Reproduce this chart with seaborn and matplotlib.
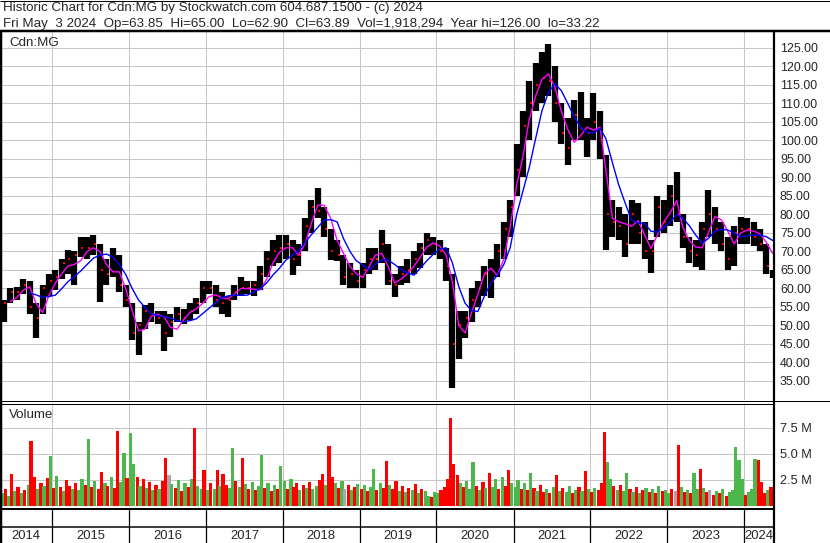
import numpy as np
import pandas as pd
import matplotlib
matplotlib.use('Agg')
import matplotlib.pyplot as plt
from matplotlib.lines import Line2D
import seaborn as sns

# ---- data --------------------------------------------------------------
# monthly bars, May 2014 .. May 2024
month_hi = [57, 60, 60.5, 62.5, 62, 56, 61, 64,
            65, 68, 70.5, 70, 74, 74, 74.5, 72, 68, 71, 69, 61,
            56, 51, 55.5, 56, 54, 54, 53, 55, 54.5, 56, 57.5, 62,
            62, 61, 59, 58, 61, 63, 62, 62, 66, 70, 73, 74.5,
            74.5, 73, 72, 79, 84, 87.2, 82, 76, 73, 69, 67, 65,
            67, 71, 71, 75.8, 72, 64, 66, 68, 70, 72.3, 75, 74,
            73, 71, 64, 54, 54, 60, 62, 66, 68, 72, 78, 84,
            99, 108, 116, 121, 124, 126, 120, 110, 106, 111, 113, 106,
            112.8, 108, 96, 84, 82, 80, 84, 83, 78, 73, 85, 84,
            88, 91.5, 80, 74, 73, 78, 86.6, 82, 78, 74, 77, 79.3,
            79, 78, 76, 72, 65]
month_lo = [51, 56, 57, 58.5, 53, 46.5, 53, 58,
            59.5, 62.5, 64, 61, 68.5, 68, 69, 56.4, 61, 63, 59, 55,
            46, 42, 49, 51, 50.5, 43, 47, 51, 50.5, 51.5, 53, 56,
            58.5, 55, 53, 52.3, 57, 58, 58.5, 58, 59.5, 63, 66, 67,
            68, 63.6, 66, 70, 75, 79, 74, 67.7, 67.5, 61, 60, 60,
            60, 64, 65, 67, 61, 57.7, 61, 61.5, 64, 65.5, 69, 69,
            68, 62, 33.2, 41, 46.5, 51, 55, 58, 57.4, 63, 68, 74,
            85, 90, 100, 108, 110, 112, 105, 99, 93.4, 100, 100, 95.5,
            100, 95, 70.5, 74, 73, 68.5, 72, 72, 68, 64.2, 74, 75,
            77, 78, 71, 67, 65.8, 65, 74, 72, 70, 65, 66, 72,
            72, 71.5, 70, 64, 62.9]
month_close = [56, 59, 59, 61, 55, 52, 60, 62,
               63, 67, 68, 69, 71, 71, 72, 65, 64, 68, 61, 57,
               48, 50, 54, 53, 52, 48, 51, 53, 52, 54, 56, 60,
               60, 57, 56, 57, 59, 60, 60, 61, 64, 68, 70, 71,
               72, 68, 69, 77, 82, 81, 76, 70, 69, 63, 64, 62,
               65, 68, 68, 72, 62, 61, 64, 65, 68, 71, 73, 72,
               70, 66, 45, 50, 52, 57, 60, 64, 62, 70, 76, 82,
               92, 104, 110, 115, 117, 116, 110, 102, 98, 107, 103, 102,
               105, 100, 80, 78, 77, 72, 80, 75, 70, 70, 82, 78,
               85, 80, 74, 70, 69, 76, 80, 76, 72, 68, 75, 76,
               76, 74, 72, 66, 63.89]

# magenta (short) and blue (long) averages, same months
ma_short = [None, 56.5, 57.5, 59.5, 60.5, 56, 53.5, 58,
            61.5, 64, 66, 66.5, 67.5, 70, 71, 70, 66.5, 64.5, 64.5, 60,
            54, 48.5, 49, 52.5, 53, 52.3, 49.5, 49, 51.5, 53.5, 54.5, 56,
            57.8, 58.3, 57.5, 57.2, 58.5, 60, 60, 59.8, 59.6, 62.5, 67, 69.8,
            71, 71, 69, 72, 77.5, 82.5, 82.5, 79, 73, 69.5, 66, 64,
            63, 66, 69, 69.5, 66, 61.5, 62.5, 64, 66, 68.5, 71.2, 72.3,
            71.5, 69, 62, 50, 48, 53.5, 58.5, 64, 65.5, 63.5, 68, 76.6,
            88, 96, 105.5, 112, 116.5, 118, 114.5, 108, 103, 99.5, 101.3, 103.6,
            102.8, 103.6, 92, 79, 78, 77.5, 76.8, 78.3, 74.5, 70.8, 74.5, 78,
            80.5, 83.8, 76.6, 73, 71.2, 71, 75, 79.5, 78.5, 75.5, 72, 75,
            75.8, 75.5, 74.8, 72.5, 69.5]
ma_long = [None, None, None, None, 58.8, 58.3, 57.6, 57.8,
           58.2, 60, 61.8, 63.2, 64.7, 66.5, 68.2, 69, 69.3, 68.5, 66.5, 63.8,
           60, 56.8, 55, 53.2, 52.6, 52.4, 52, 51.3, 51, 51.3, 51.8, 53.2,
           54.7, 56.2, 57.5, 58, 58.2, 58.2, 58.2, 59, 60, 61.5, 63.7, 65.5,
           67.7, 69, 70.2, 72.4, 74.5, 76.5, 78.5, 78.6, 78, 73.5, 70, 67.5,
           66.3, 65, 66.5, 67.7, 67.7, 66.5, 65.2, 64.2, 63.6, 65.5, 67.5, 69.2,
           70.6, 71, 67, 60.5, 56, 54, 53.8, 58, 61.5, 63.5, 66.5, 71,
           80, 86.6, 92.5, 100.5, 108, 113, 115.3, 113.5, 110, 106.5, 103.5, 102.2,
           102, 103.3, 100.5, 94, 88, 83, 78.5, 77.7, 77.5, 75.5, 75.2, 76.4,
           78, 80, 79, 77, 74.5, 72.3, 73.5, 75.5, 76, 75.8, 75, 74,
           74.2, 74.5, 74.4, 74, 73]

# volume in millions, twice a month; colour code r=down, g=up, k=unchanged
volume = [1.2, 1.6, 1.0, 3.1, 1.4, 1.8, 1.2, 1.5, 2.0, 6.2, 2.8, 1.6, 2.2, 1.9, 2.7, 4.8,
          1.7, 2.9, 1.8, 1.4, 2.5, 1.9, 1.6, 2.2, 1.5, 2.6, 2.0, 6.4, 1.8, 2.4, 1.6, 3.3, 2.2, 1.9, 2.8, 1.7, 7.2, 2.3, 5.1, 2.7,
          7.0, 4.0, 2.8, 1.9, 2.6, 1.7, 2.3, 1.5, 2.0, 1.6, 2.4, 4.6, 3.0, 2.1, 1.7, 2.5, 1.4, 2.2, 1.8, 2.6, 7.5, 1.9, 1.6, 3.5,
          1.5, 2.2, 1.6, 3.5, 1.9, 3.1, 2.0, 1.7, 5.6, 2.4, 1.8, 4.6, 2.1, 1.6, 2.3, 1.5, 1.9, 4.9, 1.7, 2.2, 1.4, 2.0, 1.6, 3.8,
          2.4, 1.6, 2.6, 1.8, 2.2, 1.5, 2.0, 1.7, 2.3, 1.6, 1.9, 2.5, 3.1, 2.0, 5.8, 2.8, 2.2, 1.7, 2.4, 1.6, 2.0, 1.5, 1.8, 2.1,
          1.6, 2.0, 1.4, 1.8, 3.6, 1.5, 2.2, 1.7, 4.3, 2.0, 1.6, 2.4, 1.4, 1.9, 1.3, 1.7, 1.5, 2.1, 1.2, 1.6, 1.4, 1.0, 0.9, 1.3,
          1.2, 1.5, 1.8, 2.6, 8.5, 4.0, 3.0, 2.2, 1.8, 2.4, 1.6, 4.2, 1.9, 1.5, 2.3, 1.7, 3.2, 1.8, 2.6, 1.6, 2.8, 1.9, 3.5, 2.2,
          1.8, 2.5, 1.6, 2.2, 1.5, 3.2, 1.7, 1.4, 2.0, 1.3, 1.6, 1.2, 1.8, 3.0, 1.4, 1.7, 1.3, 1.9, 1.2, 1.5, 1.8, 1.4, 3.4, 1.6,
          1.3, 1.7, 1.5, 2.2, 7.1, 4.2, 2.6, 1.9, 1.5, 2.0, 1.4, 3.2, 1.6, 1.3, 1.8, 1.2, 1.5, 1.7, 1.3, 1.6, 1.2, 1.9, 1.4, 1.5,
          1.2, 1.6, 1.4, 5.9, 1.8, 1.3, 1.5, 1.2, 3.2, 1.6, 3.6, 1.7, 1.3, 1.5, 1.1, 1.4, 1.2, 1.6, 1.0, 1.3, 1.5, 5.7, 4.4, 2.6,
          1.1, 1.3, 1.6, 4.5, 4.4, 2.3, 1.2, 1.5, 1.8]
volume_dir = ('grgrgrgrgrrgrgrg'
              'rgrgrrgrggrgrgrrgrgrrggr'
              'ggrgrgrgrgrrkgrgrgrgrggr'
              'grgrgrrggrgrgrgrggrgrgrg'
              'grgrrgrgrggrrgrrgrgkrgrg'
              'rgrggrgrrgrrgrgrgrgrggrg'
              'grrrrrrgrgggrgrgrggrgrrg'
              'ggrgrgrgrrgrgrgrggrgrgrg'
              'rgrrrggrgrggrgrgrgrgrgrg'
              'grkrgrgrggrgrkrgrgrggggg'
              'rgggrrrgr')

years = ['2014', '2015', '2016', '2017', '2018', '2019', '2020', '2021', '2022', '2023', '2024']
price_ticks = [35, 40, 45, 50, 55, 60, 65, 70, 75, 80, 85, 90, 95, 100, 105, 110, 115, 120, 125]
volume_ticks = [2.5, 5.0, 7.5]

header_1 = 'Historic Chart for Cdn:MG by Stockwatch.com 604.687.1500 - (c) 2024'
header_2 = ('Fri May  3 2024  Op=63.85  Hi=65.00  Lo=62.90  Cl=63.89  '
            'Vol=1,918,294  Year hi=126.00  lo=33.22')

# ---- figure ------------------------------------------------------------
W, H = 830, 543
sns.set_style('white')
plt.rcParams['font.family'] = ['Liberation Sans', 'DejaVu Sans']

fig = plt.figure(figsize=(W / 100, H / 100), dpi=100)


def fx(px):
    return px / W


def fy(py):
    return 1 - py / H


def rule(x0, y0, x1, y1, width=1.0):
    fig.add_artist(Line2D([fx(x0), fx(x1)], [fy(y0), fy(y1)], color='black',
                          lw=width * 0.72, transform=fig.transFigure,
                          solid_capstyle='butt'))


ax_p = fig.add_axes([0, fy(400), fx(773), fy(32) - fy(400)])
ax_v = fig.add_axes([0, fy(507), fx(773), fy(403) - fy(507)], sharex=ax_p)
ax_y = fig.add_axes([0, fy(543), fx(773), fy(509) - fy(543)], sharex=ax_p)

months = pd.date_range('2014-05-01', periods=len(month_hi), freq='MS')
centers = months + pd.Timedelta(days=15)
half_months = pd.date_range('2014-05-01', periods=len(volume), freq='SMS')
year_starts = pd.to_datetime([f'{y}-01-01' for y in years[1:]])
x_left, x_right = pd.Timestamp('2014-04-28'), pd.Timestamp('2024-05-18')

grid_kw = dict(color='#c8c8c8', lw=0.75)

# price panel
ax_p.vlines(centers, month_lo, month_hi, colors='black', linewidth=4.5,
            capstyle='butt', zorder=2)
ax_p.plot(centers + pd.Timedelta(days=8), month_close, ls='none', marker='s',
          ms=1.8, mew=0, color='red', zorder=3)

short = pd.DataFrame({'date': centers, 'v': ma_short}).dropna()
long_ = pd.DataFrame({'date': centers, 'v': ma_long}).dropna()
sns.lineplot(data=short, x='date', y='v', ax=ax_p, color='#ff00ff', lw=1.0,
             estimator=None, legend=False, zorder=4)
sns.lineplot(data=long_, x='date', y='v', ax=ax_p, color='#0000ff', lw=1.0,
             estimator=None, legend=False, zorder=4)

ax_p.set_xlim(x_left, x_right)
ax_p.set_ylim(29.86, 129.32)
ax_p.set_xticks(year_starts)
ax_p.yaxis.tick_right()
ax_p.set_yticks(price_ticks)
ax_p.set_yticklabels([f'{v:.2f}' for v in price_ticks])
ax_p.tick_params(axis='y', length=0, pad=5, labelsize=8.9)
ax_p.tick_params(axis='x', length=0, labelbottom=False)
ax_p.grid(True, **grid_kw)
ax_p.set_axisbelow(True)
ax_p.set_xlabel('')
ax_p.set_ylabel('')
ax_p.text(9, H - 46, 'Cdn:MG', transform=None, fontsize=9.6, va='baseline')

# volume panel
palette = {'r': '#ff0000', 'g': '#4cb84c', 'k': '#a8a8a8'}
ax_v.bar(half_months, volume, width=15.2, align='edge',
         color=[palette[c] for c in volume_dir], linewidth=0, zorder=2)
ax_v.set_ylim(-0.1, 9.9)
ax_v.yaxis.tick_right()
ax_v.set_yticks(volume_ticks)
ax_v.set_yticklabels([f'{v:.1f} M' for v in volume_ticks])
ax_v.tick_params(axis='y', length=0, pad=5, labelsize=9.2)
ax_v.tick_params(axis='x', length=0, labelbottom=False)
ax_v.grid(True, **grid_kw)
ax_v.set_axisbelow(True)
ax_v.text(9, H - 418, 'Volume', transform=None, fontsize=9.6, va='baseline')

# year strip
ax_y.set_ylim(0, 1)
ax_y.axis('off')
for d in year_starts:
    ax_y.axvline(d, color='black', lw=0.9)
edges = [x_left] + list(year_starts) + [x_right]
for lab, a, b in zip(years, edges[:-1], edges[1:]):
    ax_y.text(a + (b - a) / 2, 0.12, lab, ha='center', va='baseline', fontsize=9.4)

for ax in (ax_p, ax_v):
    for s in ax.spines.values():
        s.set_visible(False)

# frame and separators
rule(0, 0.5, W, 0.5)
rule(W - 0.5, 0, W - 0.5, H)
rule(0, H - 0.5, W, H - 0.5)
rule(1, 30, 1, H, 2.5)
rule(0, 31, W, 31, 2.5)
rule(774, 31, 774, H, 2.2)
rule(0, 400.5, W, 400.5)
rule(0, 403.5, 774, 403.5)
rule(0, 509, 774, 509, 2)
rule(0, 526.5, 774, 526.5, 1.5)

fig.text(fx(3), fy(10.5), header_1, fontsize=9.6, va='baseline')
fig.text(fx(3), fy(26.5), header_2, fontsize=9.6, va='baseline')

fig.savefig('out.png', dpi=100)
